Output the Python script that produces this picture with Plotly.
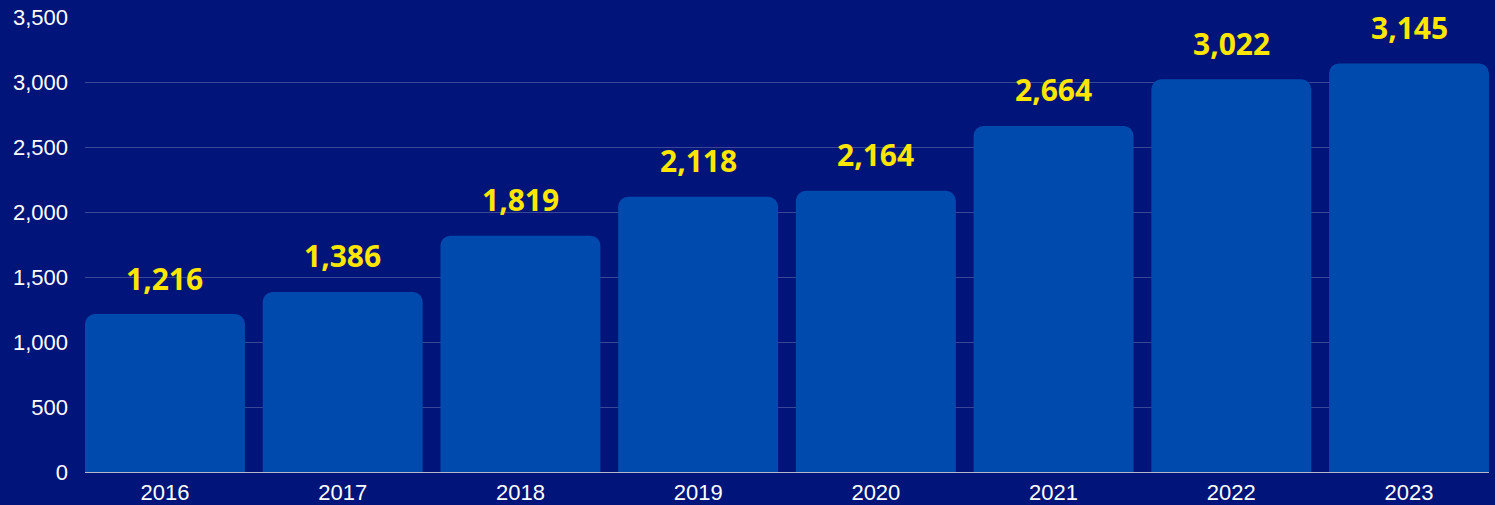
import plotly.graph_objects as go

years = ["2016", "2017", "2018", "2019", "2020", "2021", "2022", "2023"]
values = [1216, 1386, 1819, 2118, 2164, 2664, 3022, 3145]
labels = [f"{v:,}" for v in values]
ytick_vals = [0, 500, 1000, 1500, 2000, 2500, 3000, 3500]

BG = "#001479"
BAR = "#004AAD"
YELLOW = "#FFE600"

fig = go.Figure(
    go.Bar(
        x=years,
        y=values,
        marker=dict(color=BAR, line=dict(width=0)),
        hoverinfo="x+y",
    )
)

for i, (v, lab) in enumerate(zip(values, labels)):
    fig.add_annotation(
        x=i, y=v, xref="x", yref="y", text=f"<b>{lab}</b>", showarrow=False,
        yanchor="middle", yshift=36,
        font=dict(family="Open Sans", size=30, color=YELLOW),
    )

fig.update_layout(
    width=1495, height=505,
    paper_bgcolor=BG, plot_bgcolor=BG,
    margin=dict(l=85, r=6, t=17, b=33),
    bargap=0.1,
    barcornerradius=10,
    showlegend=False,
    font=dict(family="Liberation Sans, Arial", color="white", size=22),
)
fig.update_xaxes(
    type="category", range=[-0.45, 7.45],
    showgrid=False, showline=False, ticks="",
    ticklabelstandoff=5, automargin=False,
    tickfont=dict(size=22, color="white"),
)
fig.update_yaxes(
    range=[0, 3502], tickvals=ytick_vals, tickformat=",",
    showgrid=True, gridcolor="rgba(255,255,255,0.22)", gridwidth=1,
    zeroline=True, zerolinecolor="rgba(200,200,210,0.9)", zerolinewidth=1,
    showline=False, ticks="", ticklabelstandoff=16, automargin=False,
    tickfont=dict(size=22, color="white"),
)

fig.write_html(
    "out.html",
    config={"displayModeBar": False},
    post_script="document.body.style.margin='0';document.body.style.overflow='hidden';",
)
